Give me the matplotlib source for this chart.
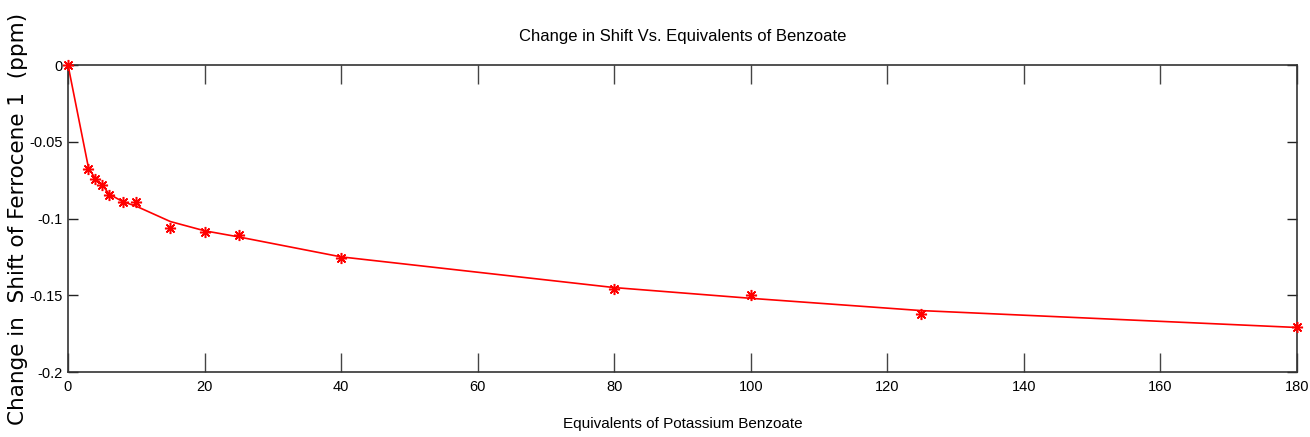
import matplotlib
matplotlib.use("Agg")
import matplotlib.pyplot as plt

# Data
equivalents = [0, 3, 4, 5, 6, 8, 10, 15, 20, 25, 40, 80, 100, 125, 180]
shift_obs = [0, -0.068, -0.074, -0.078, -0.085, -0.089, -0.089, -0.106, -0.109,
             -0.111, -0.126, -0.146, -0.150, -0.162, -0.171]
shift_fit = [0, -0.067, -0.074, -0.078, -0.084, -0.089, -0.092, -0.102, -0.108,
             -0.112, -0.125, -0.145, -0.152, -0.160, -0.171]
x_ticks = [0, 20, 40, 60, 80, 100, 120, 140, 160, 180]
y_ticks = [0, -0.05, -0.1, -0.15, -0.2]
y_tick_labels = ["0", "-0.05", "-0.1", "-0.15", "-0.2"]

plt.rcParams['axes.unicode_minus'] = False
narrow = ['Liberation Sans Narrow', 'Liberation Sans', 'DejaVu Sans']

fig = plt.figure(figsize=(13.1, 4.37), dpi=100)
ax = fig.add_axes([68/1310, 65/437, (1297-68)/1310, (372-65)/437])

ax.plot(equivalents, shift_fit, color='red', linewidth=1.2, zorder=2)
ax.plot(equivalents, shift_obs, linestyle='none', marker=(8, 2, 0), markersize=8,
        markeredgecolor='red', markeredgewidth=1.1, color='red', zorder=3,
        clip_on=False)

ax.set_xlim(0, 180)
ax.set_ylim(-0.2, 0)
ax.set_xticks(x_ticks)
ax.set_xticklabels([str(t) for t in x_ticks], family=narrow, fontsize=10.5)
ax.set_yticks(y_ticks)
ax.set_yticklabels(y_tick_labels, family=narrow, fontsize=10.5)

ax.tick_params(axis='x', direction='in', length=14, width=1, top=True, bottom=True,
               pad=6, color='#444444')
ax.tick_params(axis='y', direction='in', length=7, width=1, left=True, right=True,
               pad=4, color='#222222')
for s in ax.spines.values():
    s.set_linewidth(1.2)
    s.set_color('#333333')

ax.set_title("Change in Shift Vs. Equivalents of Benzoate", family=narrow,
             fontsize=12, pad=17)
ax.set_xlabel("Equivalents of Potassium Benzoate", family=narrow, fontsize=11,
              labelpad=16)
ax.set_ylabel("Change in  Shift of Ferrocene 1  (ppm)",
              family=['DejaVu Sans'], fontsize=15.5)
ax.yaxis.set_label_coords(-0.0325, 0.5)

fig.savefig("out.png", dpi=100)
